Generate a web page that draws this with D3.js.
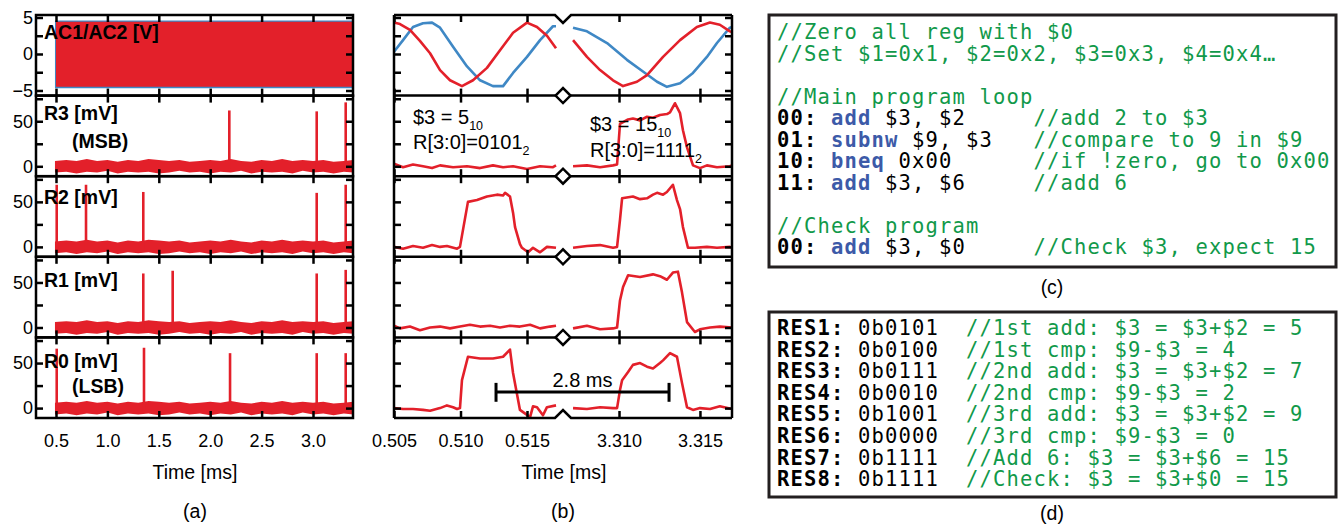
<!doctype html>
<html>
<head>
<meta charset="utf-8">
<style>
  body { margin: 0; background: #fff; }
  svg text { font-family: "Liberation Sans", Arial, sans-serif; }
  .code text { font-family: "DejaVu Sans Mono", monospace; font-size: 20.5px; letter-spacing: 1.16px; }
  .cm { fill: #11994a; }
  .kw { fill: #3c5aa8; font-weight: bold; }
  .ln { fill: #000; font-weight: bold; }
  .op { fill: #000; }
</style>
</head>
<body>
<svg id="fig" width="1343" height="527"></svg>
<script src="https://d3js.org/d3.v7.min.js"></script>
<script>
// ---- data -------------------------------------------------------------
var panelNames = ["AC1/AC2 [V]", "R3 [mV]", "R2 [mV]", "R1 [mV]", "R0 [mV]"];
var panelNotes = ["", "(MSB)", "", "", "(LSB)"];
var timeTicksA = [0.5, 1.0, 1.5, 2.0, 2.5, 3.0];
var timeTicksBL = [0.505, 0.510, 0.515];
var timeTicksBR = [3.310, 3.315];
var acTicks = [-5, -2.5, 0, 2.5, 5];
var acLabels = [-5, 0, 5];
var mvTicks = [0, 25, 50, 75];
var mvLabels = [0, 50];

// (a) overview
var traceStart = 0.49;
var acRedBand = [-4.5, 4.4];
var acBlueBand = [-4.7, 4.6];
var noiseT  = [0.49, 0.6, 0.7, 0.8, 0.9, 1.0, 1.1, 1.2, 1.3, 1.4, 1.5, 1.6, 1.7, 1.8, 1.9, 2.0, 2.1, 2.2, 2.3, 2.4, 2.5, 2.6, 2.7, 2.8, 2.9, 3.0, 3.1, 3.2, 3.3, 3.39];
var noiseHi = [6, 7, 6, 8, 6, 7, 5, 7, 6, 8, 7, 6, 7, 5, 6, 7, 6, 8, 6, 5, 7, 6, 8, 6, 7, 6, 7, 5, 6, 7];
var noiseLo = [-7, -6, -8, -6, -7, -5, -8, -6, -7, -6, -8, -7, -5, -7, -6, -8, -6, -7, -5, -8, -6, -7, -6, -8, -5, -7, -6, -8, -6, -7];
var spikeTimes = [[], [2.186, 3.036, 3.318], [0.507, 0.792, 1.349, 3.036, 3.318], [1.349, 1.635, 3.036, 3.318], [0.507, 1.356, 2.193, 3.036, 3.318]];
var spikeHeights = [[], [62, 61, 71], [69, 69, 61, 60, 69], [60, 63, 60, 64], [66, 67, 61, 61, 61]];

// (b) zoomed traces [time ms, value]
var acRedL = [[0.50500,4.3],[0.50545,4.1],[0.50620,3.3],[0.50695,1.8],[0.50771,0.1],[0.50846,-2.2],[0.50921,-3.6],[0.51011,-4.4],[0.51094,-3.6],[0.51199,-1.9],[0.51297,0.5],[0.51395,2.9],[0.51500,4.3],[0.51575,3.7],[0.51650,2.5],[0.51718,0.8]];
var acBlueL = [[0.50500,0.3],[0.50568,1.9],[0.50643,3.7],[0.50718,4.2],[0.50786,4.3],[0.50846,3.6],[0.50944,1.0],[0.51049,-1.7],[0.51147,-3.6],[0.51244,-4.4],[0.51320,-4.4],[0.51395,-2.6],[0.51500,-0.4],[0.51598,1.9],[0.51695,3.8],[0.51718,3.8]];
var acRedR = [[3.30716,1.9],[3.30802,-0.4],[3.30883,-2.2],[3.30963,-3.6],[3.31025,-4.4],[3.31111,-3.8],[3.31173,-2.9],[3.31272,-0.4],[3.31377,1.9],[3.31481,3.7],[3.31562,4.3],[3.31623,4.0],[3.31685,3.1],[3.31698,3.0]];
var acBlueR = [[3.30716,3.6],[3.30802,3.1],[3.30926,1.5],[3.31049,-0.8],[3.31148,-2.4],[3.31235,-3.8],[3.31296,-4.5],[3.31377,-4.0],[3.31457,-2.6],[3.31543,-0.4],[3.31605,1.5],[3.31685,3.6],[3.31698,3.7]];
var r3L = [[0.50500,3],[0.50568,-1],[0.50643,2],[0.50718,0],[0.50786,-2],[0.50846,1],[0.50944,-1],[0.51049,0],[0.51147,-2],[0.51244,1],[0.51320,-1],[0.51395,0],[0.51500,-3],[0.51598,0],[0.51695,-1],[0.51718,1]];
var r3R = [[3.30716,0],[3.30802,1],[3.30883,-1],[3.30963,1],[3.30988,2],[3.31006,47],[3.31056,52],[3.31086,53],[3.31130,51],[3.31173,55],[3.31210,54],[3.31253,57],[3.31296,58],[3.31315,60],[3.31346,70],[3.31377,59],[3.31395,40],[3.31420,21],[3.31457,1],[3.31500,-2],[3.31543,1],[3.31605,-1],[3.31685,0],[3.31698,1]];
var r2L = [[0.50500,0],[0.50568,-2],[0.50643,1],[0.50718,-1],[0.50786,2],[0.50846,0],[0.50898,1],[0.50974,-2],[0.50996,0],[0.51020,20],[0.51056,50],[0.51124,52],[0.51199,56],[0.51274,58],[0.51320,57],[0.51335,60],[0.51372,56],[0.51395,38],[0.51410,22],[0.51447,3],[0.51462,-1],[0.51508,-6],[0.51545,-1],[0.51598,-6],[0.51650,0],[0.51718,-1]];
var r2R = [[3.30716,-1],[3.30802,1],[3.30883,2],[3.30963,-1],[3.30988,0],[3.31006,30],[3.31019,54],[3.31086,56],[3.31130,53],[3.31173,54],[3.31210,58],[3.31235,60],[3.31272,58],[3.31296,61],[3.31333,69],[3.31358,52],[3.31377,42],[3.31395,22],[3.31426,-1],[3.31469,-1],[3.31543,0],[3.31605,-1],[3.31685,0],[3.31698,-1]];
var r1L = [[0.50500,2],[0.50545,-1],[0.50620,1],[0.50695,-3],[0.50771,0],[0.50846,1],[0.50921,-1],[0.50996,1],[0.51071,3],[0.51147,1],[0.51222,2],[0.51297,0],[0.51372,2],[0.51447,1],[0.51523,3],[0.51598,-1],[0.51673,1],[0.51718,2]];
var r1R = [[3.30716,-1],[3.30802,2],[3.30883,-2],[3.30963,-1],[3.30988,0],[3.31006,30],[3.31025,45],[3.31056,58],[3.31130,56],[3.31210,59],[3.31253,57],[3.31296,53],[3.31333,61],[3.31364,62],[3.31389,39],[3.31420,6],[3.31469,-5],[3.31500,-2],[3.31562,0],[3.31623,1],[3.31698,0]];
var r0L = [[0.50500,0],[0.50568,-1],[0.50643,-1],[0.50718,-2],[0.50771,-3],[0.50846,0],[0.50898,3],[0.50944,1],[0.50974,-1],[0.50996,0],[0.51011,31],[0.51056,57],[0.51147,55],[0.51244,55],[0.51320,57],[0.51372,65],[0.51395,39],[0.51447,-2],[0.51523,-10],[0.51545,2],[0.51575,1],[0.51620,-8],[0.51650,1],[0.51718,3]];
var r0R = [[3.30716,0],[3.30802,-1],[3.30883,1],[3.30963,0],[3.30988,0],[3.31006,20],[3.31019,31],[3.31056,40],[3.31086,48],[3.31130,50],[3.31173,46],[3.31210,44],[3.31253,50],[3.31272,53],[3.31315,61],[3.31358,57],[3.31389,28],[3.31420,1],[3.31457,-2],[3.31500,0],[3.31562,-1],[3.31623,2],[3.31698,-1]];
var bracketT = [0.51267, 3.31309];   // start on left scale, end on right scale
var bracketV = 18;

// (c) program listing: [column, text, style]
var programLines = [
  [[0, "//Zero all reg with $0", "cm"]],
  [[0, "//Set $1=0x1, $2=0x2, $3=0x3, $4=0x4\u2026", "cm"]],
  [],
  [[0, "//Main program loop", "cm"]],
  [[0, "00:", "ln"], [4, "add", "kw"], [8, "$3, $2", "op"], [19, "//add 2 to $3", "cm"]],
  [[0, "01:", "ln"], [4, "subnw", "kw"], [10, "$9, $3", "op"], [19, "//compare to 9 in $9", "cm"]],
  [[0, "10:", "ln"], [4, "bneq", "kw"], [9, "0x00", "op"], [19, "//if !zero, go to 0x00", "cm"]],
  [[0, "11:", "ln"], [4, "add", "kw"], [8, "$3, $6", "op"], [19, "//add 6", "cm"]],
  [],
  [[0, "//Check program", "cm"]],
  [[0, "00:", "ln"], [4, "add", "kw"], [8, "$3, $0", "op"], [19, "//Check $3, expect 15", "cm"]]
];
// (d) results
var resNames = ["RES1:", "RES2:", "RES3:", "RES4:", "RES5:", "RES6:", "RES7:", "RES8:"];
var resValues = ["0b0101", "0b0100", "0b0111", "0b0010", "0b1001", "0b0000", "0b1111", "0b1111"];
var resNotes = ["//1st add: $3 = $3+$2 = 5", "//1st cmp: $9-$3 = 4", "//2nd add: $3 = $3+$2 = 7", "//2nd cmp: $9-$3 = 2",
                "//3rd add: $3 = $3+$2 = 9", "//3rd cmp: $9-$3 = 0", "//Add 6: $3 = $3+$6 = 15", "//Check: $3 = $3+$0 = 15"];

// ---- layout -----------------------------------------------------------
var red = "#e3202a", blue = "#3f88c5";
var top0 = 15, rowH = 80.6, nRows = 5;
var svg = d3.select("#fig");

var xA = d3.scaleLinear().domain([0.3055, 3.389]).range([36, 353]);
var xBL = d3.scaleLinear().domain([0.505, 0.51763]).range([394, 562]);
var xBR = d3.scaleLinear().domain([3.30654, 3.31698]).range([563, 732]);

function yFor(i) {
  return d3.scaleLinear()
    .domain(i == 0 ? [-5.7, 5.34] : [-11, 78.5])
    .range([top0 + (i + 1) * rowH, top0 + i * rowH]);
}
var ys = d3.range(nRows).map(yFor);

function styleAxis(g) {
  g.select(".domain").remove();
  g.selectAll(".tick line").attr("stroke", "#000").attr("stroke-width", 2.5);
  g.selectAll("text").attr("font-family", "Liberation Sans, Arial, sans-serif")
    .attr("font-size", 18).attr("fill", "#000");
}

// ---- panel (a) --------------------------------------------------------
var ga = svg.append("g");
d3.range(nRows).forEach(function(i) {
  var y = ys[i];
  if (i == 0) {
    ga.append("path")
      .datum([traceStart, xA.domain()[1]])
      .attr("fill", blue)
      .attr("d", d3.area().x(function(d) { return xA(d); }).y0(y(acBlueBand[0])).y1(y(acBlueBand[1])));
    ga.append("path")
      .datum([traceStart, xA.domain()[1]])
      .attr("fill", red)
      .attr("d", d3.area().x(function(d) { return xA(d) + 1; }).y0(y(acRedBand[0])).y1(y(acRedBand[1])));
  } else {
    ga.append("path")
      .datum(noiseT)
      .attr("fill", red)
      .attr("d", d3.area()
        .x(function(d) { return xA(d); })
        .y0(function(d, k) { return y(noiseLo[k]); })
        .y1(function(d, k) { return y(noiseHi[k]); }));
    ga.selectAll(null)
      .data(spikeTimes[i])
      .enter().append("line")
      .attr("x1", function(d) { return xA(d); })
      .attr("x2", function(d) { return xA(d); })
      .attr("y1", y(-3))
      .attr("y2", function(d, k) { return y(spikeHeights[i][k]); })
      .attr("stroke", red).attr("stroke-width", 2.6);
  }
  var tv = i == 0 ? acTicks : mvTicks;
  var lv = i == 0 ? acLabels : mvLabels;
  ga.append("g").attr("transform", "translate(36,0)")
    .call(d3.axisLeft(y).tickValues(tv).tickSizeInner(-7).tickSizeOuter(0).tickPadding(3)
      .tickFormat(function(d) { return lv.indexOf(d) >= 0 ? d3.format("d")(d) : ""; }))
    .call(styleAxis);
  ga.append("g").attr("transform", "translate(353,0)")
    .call(d3.axisRight(y).tickValues(tv).tickSizeInner(-7).tickSizeOuter(0).tickFormat(""))
    .call(styleAxis);
  ga.append("g").attr("transform", "translate(0," + y.range()[1] + ")")
    .call(d3.axisTop(xA).tickValues(timeTicksA).tickSizeInner(-7).tickSizeOuter(0).tickFormat(""))
    .call(styleAxis);
  ga.append("g").attr("transform", "translate(0," + y.range()[0] + ")")
    .call(d3.axisBottom(xA).tickValues(timeTicksA).tickSizeInner(-7).tickSizeOuter(0).tickPadding(16)
      .tickFormat(i == nRows - 1 ? d3.format(".1f") : ""))
    .call(styleAxis);
  ga.append("rect")
    .attr("x", 36).attr("y", y.range()[1]).attr("width", 317).attr("height", rowH)
    .attr("fill", "none").attr("stroke", "#000").attr("stroke-width", 2.5);
});
// panel labels
var nameBase = [39, 120, 204, 287, 368];
ga.selectAll(".pname").data(panelNames).enter().append("text")
  .attr("x", 44).attr("y", function(d, i) { return nameBase[i]; })
  .attr("font-size", 19.5).attr("font-weight", "bold").text(function(d) { return d; });
var noteBase = [0, 148, 0, 0, 393];
ga.selectAll(".pnote").data(panelNotes).enter().append("text")
  .attr("x", 72).attr("y", function(d, i) { return noteBase[i]; })
  .attr("font-size", 19.5).attr("font-weight", "bold").text(function(d) { return d; });
ga.append("text").attr("x", 195).attr("y", 479).attr("text-anchor", "middle").attr("font-size", 19.5).text("Time [ms]");
ga.append("text").attr("x", 195).attr("y", 518).attr("text-anchor", "middle").attr("font-size", 19.5).text("(a)");

// ---- panel (b) --------------------------------------------------------
var gb = svg.append("g");
var leftSets = [[acBlueL, acRedL], [r3L], [r2L], [r1L], [r0L]];
var rightSets = [[acBlueR, acRedR], [r3R], [r2R], [r1R], [r0R]];
d3.range(nRows).forEach(function(i) {
  var y = ys[i];
  var lineL = d3.line().x(function(d) { return xBL(d[0]); }).y(function(d) { return y(d[1]); });
  var lineR = d3.line().x(function(d) { return xBR(d[0]); }).y(function(d) { return y(d[1]); });
  leftSets[i].forEach(function(s, k) {
    gb.append("path").datum(s).attr("d", lineL).attr("fill", "none")
      .attr("stroke", (i == 0 && k == 0) ? blue : red).attr("stroke-width", 2.6).attr("stroke-linejoin", "round");
  });
  rightSets[i].forEach(function(s, k) {
    gb.append("path").datum(s).attr("d", lineR).attr("fill", "none")
      .attr("stroke", (i == 0 && k == 0) ? blue : red).attr("stroke-width", 2.6).attr("stroke-linejoin", "round");
  });
  var tv = i == 0 ? acTicks : mvTicks;
  gb.append("g").attr("transform", "translate(394,0)")
    .call(d3.axisLeft(y).tickValues(tv).tickSizeInner(-7).tickSizeOuter(0).tickFormat(""))
    .call(styleAxis);
  gb.append("g").attr("transform", "translate(732,0)")
    .call(d3.axisRight(y).tickValues(tv).tickSizeInner(-7).tickSizeOuter(0).tickFormat(""))
    .call(styleAxis);
  [[xBL, timeTicksBL], [xBR, timeTicksBR]].forEach(function(p) {
    gb.append("g").attr("transform", "translate(0," + y.range()[1] + ")")
      .call(d3.axisTop(p[0]).tickValues(p[1]).tickSizeInner(-7).tickSizeOuter(0).tickFormat(""))
      .call(styleAxis);
    gb.append("g").attr("transform", "translate(0," + y.range()[0] + ")")
      .call(d3.axisBottom(p[0]).tickValues(p[1]).tickSizeInner(-7).tickSizeOuter(0).tickPadding(16)
        .tickFormat(i == nRows - 1 ? d3.format(".3f") : ""))
      .call(styleAxis);
  });
});
// frame with axis break
var yTop = top0, yBot = top0 + nRows * rowH, xBrk = 563;
var frame = gb.append("g").attr("fill", "none").attr("stroke", "#000").attr("stroke-width", 2.5);
frame.append("path").attr("d", "M394," + yTop + "V" + yBot + "M732," + yTop + "V" + yBot);
frame.append("path").attr("fill", "#fff").attr("stroke-linejoin", "miter")
  .attr("d", "M394," + yTop + "H" + (xBrk - 8) + "L" + xBrk + "," + (yTop + 8) + "L" + (xBrk + 8) + "," + yTop + "H732");
frame.append("path").attr("stroke-linejoin", "miter")
  .attr("d", "M394," + yBot + "H" + (xBrk - 8) + "L" + xBrk + "," + (yBot - 8) + "L" + (xBrk + 8) + "," + yBot + "H732");
d3.range(1, nRows).forEach(function(i) {
  var yy = top0 + i * rowH;
  frame.append("path").attr("d", "M394," + yy + "H732");
  frame.append("path").attr("fill", "#fff")
    .attr("d", "M" + (xBrk - 7.5) + "," + yy + "L" + xBrk + "," + (yy - 7.5) + "L" + (xBrk + 7.5) + "," + yy + "L" + xBrk + "," + (yy + 7.5) + "Z");
});
// annotations
function subText(x, yb, main, sub) {
  var t = gb.append("text").attr("x", x).attr("y", yb).attr("font-size", 20);
  t.append("tspan").text(main);
  t.append("tspan").attr("font-size", 12.5).attr("dy", 6).text(sub);
}
subText(413, 124, "$3 = 5", "10");
subText(413, 149, "R[3:0]=0101", "2");
subText(590, 131, "$3 = 15", "10");
subText(590, 157, "R[3:0]=1111", "2");

var yR0 = ys[4];
var bx0 = xBL(bracketT[0]), bx1 = xBR(bracketT[1]), by = yR0(bracketV);
var br = gb.append("g").attr("stroke", "#000").attr("stroke-width", 3);
br.append("line").attr("x1", bx0).attr("x2", bx1).attr("y1", by).attr("y2", by);
br.append("line").attr("x1", bx0).attr("x2", bx0).attr("y1", yR0(bracketV + 10)).attr("y2", yR0(bracketV - 11));
br.append("line").attr("x1", bx1).attr("x2", bx1).attr("y1", yR0(bracketV + 10)).attr("y2", yR0(bracketV - 11));
gb.append("text").attr("x", (bx0 + bx1) / 2).attr("y", by - 5).attr("text-anchor", "middle").attr("font-size", 20).text("2.8 ms");

gb.append("text").attr("x", 564).attr("y", 479).attr("text-anchor", "middle").attr("font-size", 19.5).text("Time [ms]");
gb.append("text").attr("x", 563).attr("y", 518).attr("text-anchor", "middle").attr("font-size", 19.5).text("(b)");

// ---- panels (c) and (d) ----------------------------------------------
var cw = 13.5, cx0 = 777;
var gc = svg.append("g").attr("class", "code");
gc.append("rect").attr("x", 769).attr("y", 15).attr("width", 567).attr("height", 252)
  .attr("fill", "none").attr("stroke", "#231f20").attr("stroke-width", 3);
programLines.forEach(function(line, r) {
  line.forEach(function(tok) {
    gc.append("text").attr("class", tok[2])
      .attr("x", cx0 + tok[0] * cw).attr("y", 39 + r * 21.5).text(tok[1]);
  });
});
svg.append("text").attr("x", 1052).attr("y", 294).attr("text-anchor", "middle").attr("font-size", 19.5).text("(c)");

var gd = svg.append("g").attr("class", "code");
gd.append("rect").attr("x", 769).attr("y", 312).attr("width", 567).attr("height", 185)
  .attr("fill", "none").attr("stroke", "#231f20").attr("stroke-width", 3);
resNames.forEach(function(n, r) {
  var yb = 335 + r * 21.6;
  gd.append("text").attr("class", "ln").attr("x", cx0).attr("y", yb).text(n);
  gd.append("text").attr("class", "op").attr("x", cx0 + 6 * cw).attr("y", yb).text(resValues[r]);
  gd.append("text").attr("class", "cm").attr("x", cx0 + 14 * cw).attr("y", yb).text(resNotes[r]);
});
svg.append("text").attr("x", 1052).attr("y", 520).attr("text-anchor", "middle").attr("font-size", 19.5).text("(d)");
</script>
</body>
</html>
